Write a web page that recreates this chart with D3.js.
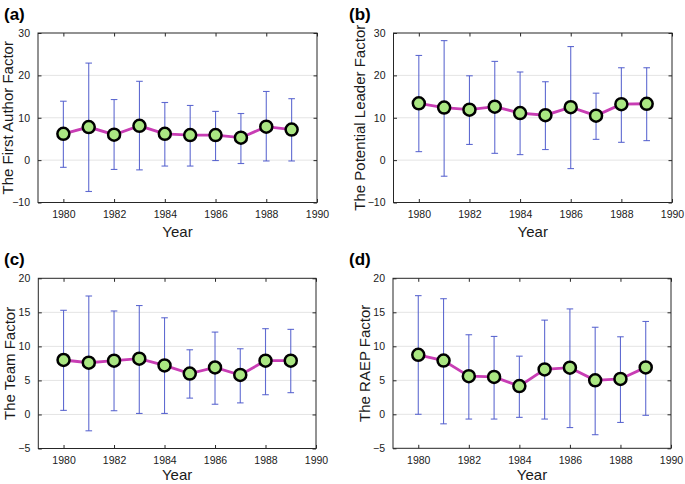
<!DOCTYPE html>
<html><head><meta charset="utf-8">
<script src="https://cdn.jsdelivr.net/npm/d3@7"></script>
<style>
html,body{margin:0;padding:0;background:#fff;}
svg{display:block;font-family:"Liberation Sans",Arial,sans-serif;}
</style></head>
<body>
<svg id="chart" width="685" height="484"></svg>
<script>
const years = [1980,1981,1982,1983,1984,1985,1986,1987,1988,1989];
const xTicks = [1980,1982,1984,1986,1988,1990];

// (a) The First Author Factor
const aMean  = [6.2, 7.8, 6.0, 8.1, 6.2, 5.9, 5.9, 5.3, 7.9, 7.2];
const aLower = [-1.7, -7.4, -2.2, -2.3, -1.4, -1.4, -0.1, -0.8, -0.2, -0.2];
const aUpper = [13.9, 22.9, 14.3, 18.6, 13.6, 12.9, 11.5, 11.0, 16.2, 14.5];
// (b) The Potential Leader Factor
const bMean  = [13.4, 12.4, 11.9, 12.6, 11.1, 10.6, 12.5, 10.5, 13.2, 13.3];
const bLower = [2.0, -3.8, 3.7, 1.6, 1.3, 2.5, -2.0, 4.9, 4.2, 4.6];
const bUpper = [24.7, 28.2, 19.9, 23.3, 20.8, 18.5, 26.8, 15.8, 21.8, 21.8];
// (c) The Team Factor
const cMean  = [8.0, 7.6, 7.9, 8.2, 7.2, 6.0, 6.9, 5.8, 7.9, 7.9];
const cLower = [0.6, -2.4, 0.55, 0.15, 0.15, 2.4, 1.5, 1.7, 2.9, 3.2];
const cUpper = [15.3, 17.4, 15.2, 16.0, 14.2, 9.5, 12.1, 9.65, 12.6, 12.5];
// (d) The RAEP Factor
const dMean  = [8.75, 7.9, 5.6, 5.5, 4.15, 6.6, 6.85, 5.0, 5.2, 6.9];
const dLower = [0.0, -1.4, -0.7, -0.7, -0.45, -0.7, -1.95, -3.0, -1.2, -0.15];
const dUpper = [17.45, 17.0, 11.7, 11.45, 8.55, 13.85, 15.5, 12.8, 11.4, 13.65];

const yTicksAB = [-10, 0, 10, 20, 30];
const yTicksCD = [-5, 0, 5, 10, 15, 20];

const panels = [
  {tag:"(a)", ylabel:"The First Author Factor", mean:aMean, lo:aLower, hi:aUpper, yt:yTicksAB,
   box:{l:38, r:317, t:33, b:202.5}, tagX:4, tagY:20, ylx:13, yearDy:34.5},
  {tag:"(b)", ylabel:"The Potential Leader Factor", mean:bMean, lo:bLower, hi:bUpper, yt:yTicksAB,
   box:{l:393.5, r:672, t:33, b:202.5}, tagX:349, tagY:20, ylx:365, yearDy:34.5},
  {tag:"(c)", ylabel:"The Team Factor", mean:cMean, lo:cLower, hi:cUpper, yt:yTicksCD,
   box:{l:38.3, r:316, t:278.3, b:448.5}, tagX:4, tagY:265, ylx:15, yearDy:31.5},
  {tag:"(d)", ylabel:"The RAEP Factor", mean:dMean, lo:dLower, hi:dUpper, yt:yTicksCD,
   box:{l:393, r:671, t:278.3, b:448.3}, tagX:349, tagY:265, ylx:370, yearDy:31.5}
];

const svg = d3.select("#chart");

panels.forEach(p => {
  const B = p.box;
  const x = d3.scaleLinear().domain([1979, 1990]).range([B.l, B.r]);
  const y = d3.scaleLinear().domain([p.yt[0], p.yt[p.yt.length-1]]).range([B.b, B.t]);
  const g = svg.append("g");

  // grid
  g.selectAll("line.grid").data(p.yt.slice(1, -1)).join("line")
    .attr("x1", B.l).attr("x2", B.r)
    .attr("y1", d => y(d)).attr("y2", d => y(d))
    .attr("stroke", "#e4e4e4").attr("stroke-width", 1);

  // axes (inward ticks)
  const tl = 3.5;
  const axB = d3.axisBottom(x).tickValues(xTicks).tickFormat(d3.format("d")).tickSizeInner(-tl).tickSizeOuter(0).tickPadding(8);
  const axT = d3.axisTop(x).tickValues(xTicks).tickFormat("").tickSizeInner(-tl).tickSizeOuter(0);
  const axL = d3.axisLeft(y).tickValues(p.yt).tickFormat(d3.format("d")).tickSizeInner(-tl).tickSizeOuter(0).tickPadding(8);
  const axR = d3.axisRight(y).tickValues(p.yt).tickFormat("").tickSizeInner(-tl).tickSizeOuter(0);
  [[axB, `translate(0,${B.b})`], [axT, `translate(0,${B.t})`], [axL, `translate(${B.l},0)`], [axR, `translate(${B.r},0)`]]
    .forEach(([ax, tr]) => {
      const a = g.append("g").attr("transform", tr).call(ax);
      a.select(".domain").remove();
      a.selectAll("line").attr("stroke", "#262626");
      a.selectAll("text").attr("fill", "#1a1a1a").style("font-size", "10.5px").style("font-family", "'Liberation Sans', Arial, sans-serif");
    });

  // box
  g.append("rect").attr("x", B.l).attr("y", B.t).attr("width", B.r - B.l).attr("height", B.b - B.t)
    .attr("fill", "none").attr("stroke", "#262626").attr("stroke-width", 1);

  // error bars
  const eb = g.append("g").attr("stroke", "#4f5bcc").attr("stroke-width", 1.1).attr("stroke-opacity", 0.9);
  const cap = 3.3;
  years.forEach((yr, i) => {
    const cx = x(yr);
    eb.append("line").attr("x1", cx).attr("x2", cx).attr("y1", y(p.lo[i])).attr("y2", y(p.hi[i]));
    eb.append("line").attr("x1", cx - cap).attr("x2", cx + cap).attr("y1", y(p.lo[i])).attr("y2", y(p.lo[i]));
    eb.append("line").attr("x1", cx - cap).attr("x2", cx + cap).attr("y1", y(p.hi[i])).attr("y2", y(p.hi[i]));
  });

  // line
  const line = d3.line().x((d, i) => x(years[i])).y(d => y(d));
  g.append("path").datum(p.mean).attr("d", line)
    .attr("fill", "none").attr("stroke", "#c83db4").attr("stroke-width", 2.8);

  // markers
  g.selectAll("circle").data(p.mean).join("circle")
    .attr("cx", (d, i) => x(years[i])).attr("cy", d => y(d)).attr("r", 6)
    .attr("fill", "#aae682").attr("stroke", "#000").attr("stroke-width", 2.5);

  // labels
  g.append("text").attr("x", (B.l + B.r) / 2).attr("y", B.b + p.yearDy).attr("text-anchor", "middle")
    .style("font-size", "15px").attr("fill", "#1a1a1a").text("Year");
  g.append("text").attr("transform", `translate(${p.ylx},${(B.t + B.b) / 2}) rotate(-90)`)
    .attr("text-anchor", "middle").style("font-size", "15px").attr("fill", "#1a1a1a").text(p.ylabel);
  g.append("text").attr("x", p.tagX).attr("y", p.tagY)
    .style("font-size", "17px").style("font-weight", "bold").attr("fill", "#000").text(p.tag);
});
</script>
</body></html>
